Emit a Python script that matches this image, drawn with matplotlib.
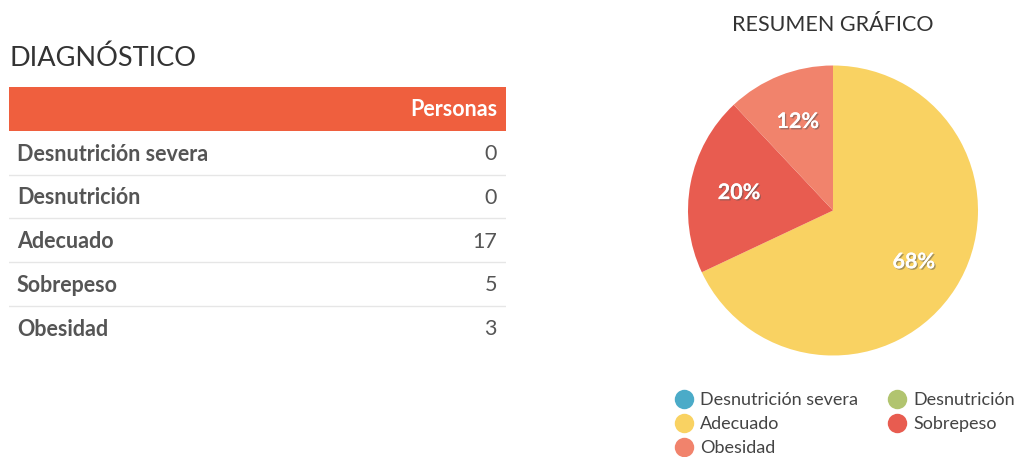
import matplotlib.pyplot as plt
import matplotlib.patheffects as pe
from matplotlib.lines import Line2D

categories = ['Desnutrición severa', 'Desnutrición', 'Adecuado', 'Sobrepeso', 'Obesidad']
personas = [0, 0, 17, 5, 3]
colors = ['#4babc8', '#b1c46f', '#f9d262', '#e85c50', '#f1836c']

plt.rcParams['font.family'] = ['Lato', 'DejaVu Sans']

W, H = 1024, 457
fig = plt.figure(figsize=(W / 100, H / 100), dpi=100, facecolor='white')

# ---- table ----
fig.text(9 / W, 1 - 58 / H, 'DIAGNÓSTICO', fontsize=19.5, color='#333333',
         ha='left', va='center')

row_h = 43.8
top = 87
n_rows = len(categories) + 1
tab = fig.add_axes([9 / W, 1 - (top + n_rows * row_h) / H, 497 / W, n_rows * row_h / H])
tab.set_xlim(0, 497)
tab.set_ylim(n_rows - 0.5, -0.5)
tab.axis('off')

tab.axhspan(-0.5, 0.5, color='#ef5f3e', lw=0)
tab.text(488, 0.02, 'Personas', color='white', fontsize=15.5, fontweight='bold',
         ha='right', va='center')
for i, (cat, val) in enumerate(zip(categories, personas), start=1):
    tab.text(8, i + 0.03, cat, color='#555555', fontsize=15.5, fontweight='bold',
             ha='left', va='center')
    tab.text(488, i + 0.03, str(val), color='#555555', fontsize=15.5,
             ha='right', va='center')
    if i < len(categories):
        tab.axhline(i + 0.5, color='#e6e6e6', lw=1)

# ---- pie ----
fig.text(833 / W, 1 - 25 / H, 'RESUMEN GRÁFICO', fontsize=15.5, color='#333333',
         ha='center', va='center')

cx, cy, r = 833, 210.5, 145
pie_ax = fig.add_axes([(cx - r) / W, 1 - (cy + r) / H, 2 * r / W, 2 * r / H])
wedges, texts, autotexts = pie_ax.pie(
    personas, colors=colors, startangle=90, counterclock=False,
    autopct=lambda p: f'{p:.0f}%' if p > 0 else '', pctdistance=0.66,
    wedgeprops={'linewidth': 0})
for t in autotexts:
    t.set(color='white', fontsize=15.5, fontweight='bold')
    t.set_path_effects([pe.withSimplePatchShadow(offset=(1, -1), shadow_rgbFace='#555555', alpha=0.5),
                        pe.Normal()])
pie_ax.set_xlim(-1, 1)
pie_ax.set_ylim(-1, 1)
pie_ax.set_aspect('equal')

# legend filled column-wise: reorder so rows read DS, D / A, S / O
order = [0, 2, 4, 1, 3]
handles = [Line2D([], [], marker='o', ls='none', markersize=14,
                  markerfacecolor=colors[k], markeredgewidth=0) for k in order]
labels = [categories[k] for k in order]
fig.legend(handles, labels, loc='upper left', bbox_to_anchor=(664 / W, 1 - 383 / H),
           ncol=2, frameon=False, fontsize=13, labelcolor='#444444',
           handletextpad=0.3, columnspacing=1.55, labelspacing=0.45,
           borderpad=0, handlelength=1.2)

fig.savefig('out.png', dpi=100, facecolor='white')
